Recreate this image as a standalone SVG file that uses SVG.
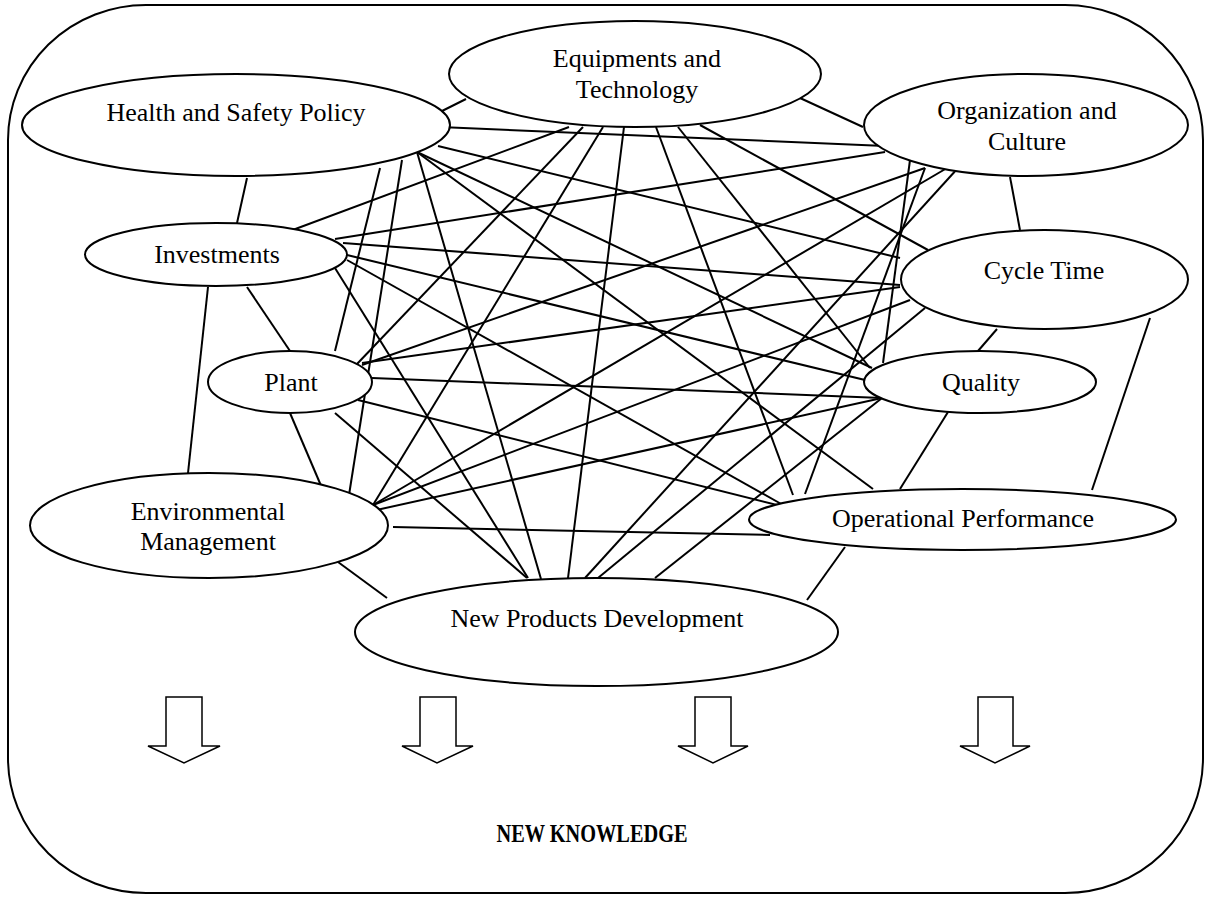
<svg xmlns="http://www.w3.org/2000/svg" width="1212" height="898" viewBox="0 0 1212 898">
<style>
.frame{fill:none;stroke:#000;stroke-width:2}
.node ellipse{fill:#fff;stroke:#000;stroke-width:2}
.node text,.lbl{font-family:"Liberation Serif","Times New Roman",serif;font-size:26px;fill:#000;text-anchor:middle}
.conn line{stroke:#000;stroke-width:2}
.arrow{fill:#fff;stroke:#000;stroke-width:1.5;stroke-linejoin:miter}
.bold{font-weight:bold}
</style>
<rect class="frame" x="8" y="5" width="1195" height="888" rx="138" ry="135"/>
<g id="connectors" class="conn">
<line x1="442" y1="111" x2="466" y2="99"/>
<line x1="440" y1="127" x2="885" y2="146"/>
<line x1="438" y1="146" x2="900" y2="258"/>
<line x1="417" y1="152" x2="872" y2="368"/>
<line x1="417" y1="152" x2="873" y2="489"/>
<line x1="417" y1="152" x2="541" y2="579"/>
<line x1="247" y1="178" x2="237" y2="223"/>
<line x1="380" y1="168" x2="335" y2="351"/>
<line x1="402" y1="160" x2="349" y2="495"/>
<line x1="800" y1="98" x2="863" y2="127"/>
<line x1="569" y1="127" x2="290" y2="231"/>
<line x1="583" y1="127" x2="357" y2="364"/>
<line x1="603" y1="127" x2="373" y2="505"/>
<line x1="624" y1="127" x2="568" y2="578"/>
<line x1="656" y1="127" x2="793" y2="495"/>
<line x1="678" y1="127" x2="870" y2="368"/>
<line x1="700" y1="125" x2="928" y2="250"/>
<line x1="885" y1="152" x2="335" y2="239"/>
<line x1="910" y1="160" x2="883" y2="363"/>
<line x1="925" y1="168" x2="805" y2="494"/>
<line x1="925" y1="168" x2="362" y2="365"/>
<line x1="947" y1="168" x2="373" y2="505"/>
<line x1="958" y1="168" x2="585" y2="578"/>
<line x1="1010" y1="177" x2="1020" y2="230"/>
<line x1="900" y1="285" x2="343" y2="243"/>
<line x1="900" y1="287" x2="362" y2="363"/>
<line x1="910" y1="300" x2="373" y2="505"/>
<line x1="925" y1="308" x2="598" y2="578"/>
<line x1="997" y1="329" x2="978" y2="351"/>
<line x1="1150" y1="318" x2="1092" y2="490"/>
<line x1="948" y1="412" x2="900" y2="489"/>
<line x1="882" y1="398" x2="655" y2="578"/>
<line x1="882" y1="398" x2="372" y2="511"/>
<line x1="882" y1="398" x2="372" y2="378"/>
<line x1="865" y1="380" x2="347" y2="255"/>
<line x1="845" y1="547" x2="807" y2="600"/>
<line x1="770" y1="535" x2="393" y2="527"/>
<line x1="785" y1="507" x2="358" y2="400"/>
<line x1="783" y1="505" x2="347" y2="260"/>
<line x1="247" y1="287" x2="290" y2="351"/>
<line x1="208" y1="287" x2="188" y2="473"/>
<line x1="335" y1="268" x2="528" y2="578"/>
<line x1="290" y1="413" x2="322" y2="488"/>
<line x1="335" y1="413" x2="527" y2="578"/>
<line x1="338" y1="562" x2="387" y2="598"/>
</g>
<g id="health" class="node"><ellipse cx="236" cy="125" rx="214" ry="51"/><text x="236" y="121">Health and Safety Policy</text></g>
<g id="equipments" class="node"><ellipse cx="635" cy="74" rx="186" ry="53"/><text x="637" y="67">Equipments and</text><text x="637" y="98">Technology</text></g>
<g id="organization" class="node"><ellipse cx="1026" cy="125" rx="162" ry="51"/><text x="1027" y="119">Organization and</text><text x="1027" y="150">Culture</text></g>
<g id="investments" class="node"><ellipse cx="216" cy="254.5" rx="131" ry="31.5"/><text x="217" y="263">Investments</text></g>
<g id="cycle" class="node"><ellipse cx="1044.5" cy="279.5" rx="143.5" ry="49.5"/><text x="1044" y="279">Cycle Time</text></g>
<g id="plant" class="node"><ellipse cx="290" cy="382" rx="82" ry="31"/><text x="291" y="391">Plant</text></g>
<g id="quality" class="node"><ellipse cx="980" cy="382" rx="116" ry="31"/><text x="981" y="391">Quality</text></g>
<g id="environmental" class="node"><ellipse cx="209" cy="525.5" rx="179" ry="52.5"/><text x="208" y="520">Environmental</text><text x="208" y="550">Management</text></g>
<g id="operational" class="node"><ellipse cx="962.5" cy="519.5" rx="213.5" ry="30.5"/><text x="963" y="527">Operational Performance</text></g>
<g id="newproducts" class="node"><ellipse cx="596.5" cy="632" rx="241.5" ry="54"/><text x="597" y="627">New Products Development</text></g>
<g id="arrows">
<polygon class="arrow" points="166,697 202,697 202,746 220,746 184,763 148,746 166,746"/>
<polygon class="arrow" points="420,697 456,697 456,746 473,746 437,763 402,746 420,746"/>
<polygon class="arrow" points="695,697 731,697 731,746 748,746 713,763 678,746 695,746"/>
<polygon class="arrow" points="978,697 1013,697 1013,746 1030,746 995,763 960,746 978,746"/>
</g>
<text class="lbl bold" x="592" y="842" textLength="191" lengthAdjust="spacingAndGlyphs">NEW KNOWLEDGE</text>
</svg>
